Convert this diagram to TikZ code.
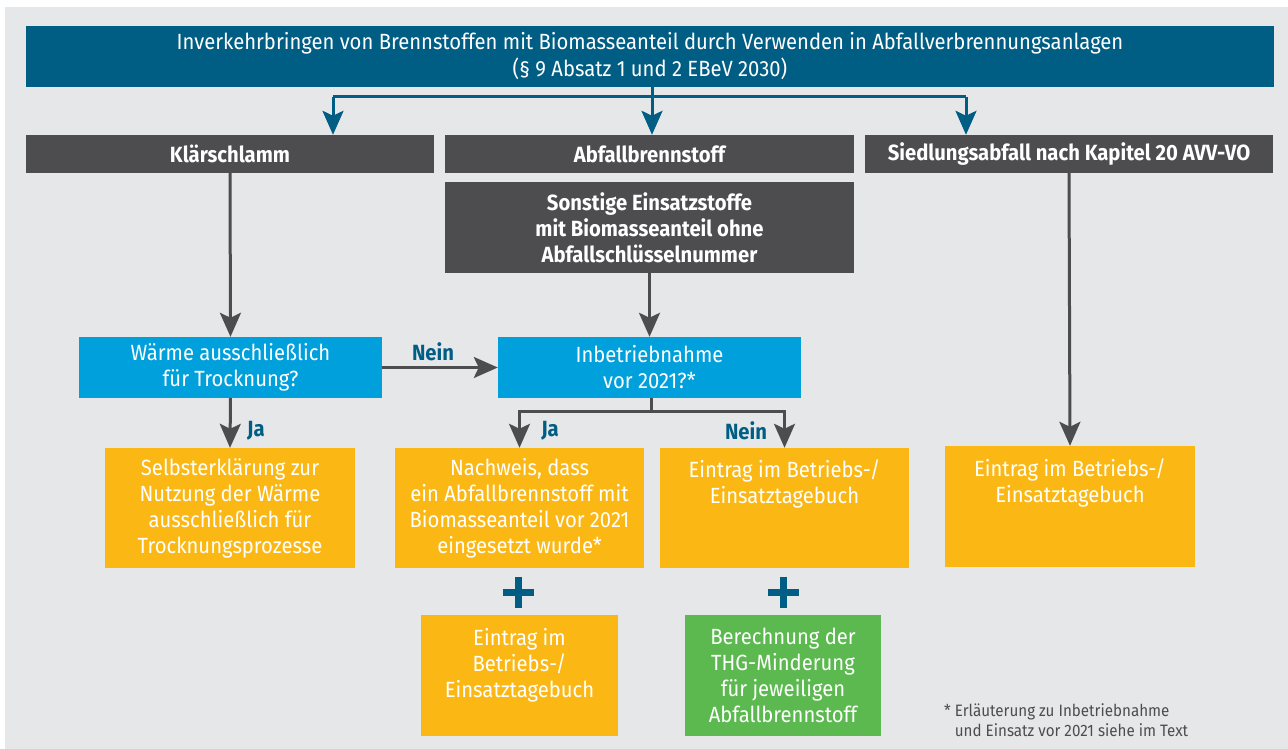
\documentclass[tikz,border=0pt]{standalone}
\usepackage{fontspec}
\setmainfont[FakeStretch=0.92]{Fira Sans}
\usetikzlibrary{arrows.meta,calc}
\definecolor{bgc}{HTML}{E6E7E9}
\definecolor{tblue}{HTML}{005E84}
\definecolor{hgray}{HTML}{4D4D4F}
\definecolor{lblue}{HTML}{00A0DC}
\definecolor{yel}{HTML}{FBB814}
\definecolor{grn}{HTML}{5BB94F}
\begin{document}
\begin{tikzpicture}[x=1pt,y=-1pt,
  box/.style={rectangle, inner sep=0pt, text=white, align=center, font=\fontsize{22}{26}\selectfont},
  hbox/.style={box, fill=hgray, font=\bfseries\fontsize{22}{26}\selectfont},
  tbox/.style={box, fill=tblue, font=\fontsize{22}{27}\selectfont},
  qbox/.style={box, fill=lblue},
  ybox/.style={box, fill=yel},
  gbox/.style={box, fill=grn},
  barr/.style={draw=tblue, line width=3pt, -{Stealth[length=24pt,width=21pt,inset=5pt]}},
  bline/.style={draw=tblue, line width=3pt},
  garr/.style={draw=hgray, line width=3pt, -{Stealth[length=24pt,width=21pt,inset=5pt]}},
  gline/.style={draw=hgray, line width=3pt},
  lbl/.style={text=tblue, inner sep=0pt, font=\bfseries\fontsize{22}{24}\selectfont},
  plusbar/.style={draw=tblue, line width=7pt},
  foot/.style={text=hgray, inner sep=0pt, align=left, anchor=north west, font=\fontsize{16.5}{20}\selectfont}
]
\useasboundingbox (0,0) rectangle (1288,749);
\fill[white] (0,0) rectangle (1288,749);
\fill[bgc] (5,7) rectangle (1288,749);

% title
\node[tbox, minimum width=1248, minimum height=61] (title) at (650,56.5)
  {Inverkehrbringen von Brennstoffen mit Biomasseanteil durch Verwenden in Abfallverbrennungsanlagen\\(§ 9 Absatz 1 und 2 EBeV 2030)};

% header row
\node[hbox, minimum width=408, minimum height=38] (klaer) at (230,154) {Klärschlamm};
\node[hbox, minimum width=409, minimum height=38] (abfall) at (649.5,154) {Abfallbrennstoff};
\node[hbox, minimum width=408, minimum height=38] (sied) at (1069,154) {Siedlungsabfall nach Kapitel 20 AVV-VO};
\node[hbox, minimum width=409, minimum height=91] (sonst) at (649.5,227.5) {Sonstige Einsatzstoffe\\mit Biomasseanteil ohne\\Abfallschlüsselnummer};

% questions
\node[qbox, minimum width=303, minimum height=61] (waerme) at (230.5,367.5) {Wärme ausschließlich\\für Trocknung?};
\node[qbox, minimum width=303, minimum height=61] (inbetr) at (649.5,367.5) {Inbetriebnahme\\vor 2021?*};

% results
\node[ybox, minimum width=250, minimum height=120] (selbst) at (230,508) {Selbsterklärung zur\\Nutzung der Wärme\\ausschließlich für\\Trocknungsprozesse};
\node[ybox, minimum width=249, minimum height=120] (nachweis) at (519.5,508) {Nachweis, dass\\ein Abfallbrennstoff mit\\Biomasseanteil vor 2021\\eingesetzt wurde*};
\node[ybox, minimum width=249, minimum height=120] (eintragM) at (784.5,508) {Eintrag im Betriebs-/\\Einsatztagebuch\\~\\~};
\node[ybox, minimum width=250, minimum height=121] (eintragR) at (1070,506.5) {Eintrag im Betriebs-/\\Einsatztagebuch\\~\\~};
\node[ybox, minimum width=197, minimum height=121] (eintragL) at (519.5,675.5) {Eintrag im\\Betriebs-/\\Einsatztagebuch\\~};
\node[gbox, minimum width=196, minimum height=121] (thg) at (783,675.5) {Berechnung der\\THG-Minderung\\für jeweiligen\\Abfallbrennstoff};

% blue connectors
\coordinate (bj) at (652,97);
\draw[barr] (title.south -| bj) -- (abfall.north -| bj);
\draw[bline] (bj -| 333,0) -- (bj -| 966,0);
\draw[barr] (bj -| 333,0) -- (klaer.north -| 333,0);
\draw[barr] (bj -| 966,0) -- (sied.north -| 966,0);

% gray connectors
\draw[garr] (klaer.south) -- (waerme.north);
\draw[garr] (sonst.south) -- (inbetr.north);
\draw[garr] (sied.south) -- (eintragR.north);
\draw[garr] (waerme.east) -- (inbetr.west);
\draw[garr] (waerme.south) -- (selbst.north);
\coordinate (gj) at (651,411);
\draw[gline] (inbetr.south -| gj) -- (gj);
\draw[garr] (gj) -| (nachweis.north);
\draw[garr] (gj) -| (eintragM.north);

% labels
\node[lbl] (lnein1) at (433,352) {Nein};
\node[lbl] (lja1) at (256,431) {Ja};
\node[lbl] (lja2) at (550,431) {Ja};
\node[lbl] (lnein2) at (746,431) {Nein};

% plus signs
\draw[plusbar] (502.5,592) -- (533.5,592) (518,576.5) -- (518,607.5);
\draw[plusbar] (767.5,592) -- (798.5,592) (783,576.5) -- (783,607.5);

% footnote
\node[foot] (fn) at (944,703) {* Erläuterung zu Inbetriebnahme\\\hphantom{* }und Einsatz vor 2021 siehe im Text};
\end{tikzpicture}
\end{document}
